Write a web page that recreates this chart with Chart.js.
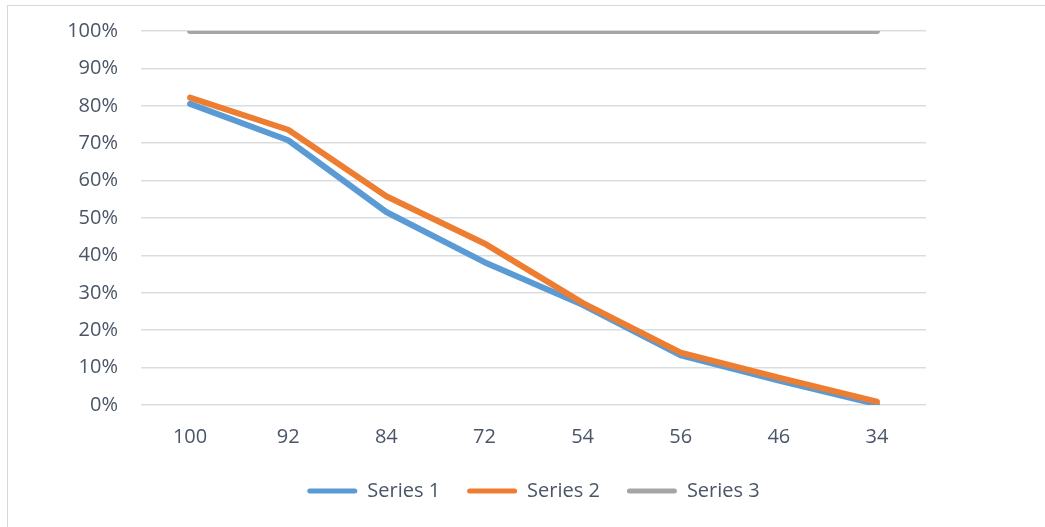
<!DOCTYPE html>
<html>
<head>
<meta charset="utf-8">
<script src="https://cdn.jsdelivr.net/npm/chart.js@4/dist/chart.umd.min.js"></script>
<style>
  html, body { margin: 0; padding: 0; background: #ffffff; overflow: hidden; }
  #frame {
    position: absolute; left: 7px; top: 5px; width: 1100px; height: 600px;
    border-left: 1px solid #d9d9d9; border-top: 1px solid #d9d9d9;
  }
  #wrap { position: absolute; left: 0; top: 0; width: 1045px; height: 527px; }
</style>
</head>
<body>
<div id="frame"></div>
<div id="wrap"><canvas id="chart" width="1045" height="527"></canvas></div>
<script>
// Category labels along the x axis
const categories = ['100', '92', '84', '72', '54', '56', '46', '34'];

// Series values, in percent
const series1 = [80.5, 70.8, 51.6, 38.2, 26.8, 13.3, 6.5, 0.2];
const series2 = [82.2, 73.6, 55.8, 43.2, 27.3, 14.0, 7.3, 0.9];
const series3 = [100, 100, 100, 100, 100, 100, 100, 100];

const seriesNames = ['Series 1', 'Series 2', 'Series 3'];
const seriesColors = ['#5b9bd5', '#ed7d31', '#a5a5a5'];

const textColor = '#4a5567';
const gridColor = '#d9dde2';
const font = { family: '"Open Sans", "Liberation Sans", sans-serif', size: 20 };

const lineStyle = (i) => ({
  label: seriesNames[i],
  borderColor: seriesColors[i],
  backgroundColor: seriesColors[i],
  borderWidth: 6,
  borderCapStyle: 'round',
  borderJoinStyle: 'round',
  pointRadius: 0,
  pointHoverRadius: 0,
  tension: 0,
  fill: false
});

// Center the legend row under the plot area rather than the whole canvas
const legendUnderPlot = {
  id: 'legendUnderPlot',
  afterLayout(chart) {
    if (chart.legend) {
      chart.legend.left = chart.chartArea.left;
      chart.legend.right = chart.chartArea.right;
      chart.legend.width = chart.chartArea.right - chart.chartArea.left;
    }
  }
};

new Chart(document.getElementById('chart'), {
  type: 'line',
  data: {
    labels: categories,
    datasets: [
      Object.assign(lineStyle(0), { data: series1, order: 2 }),
      Object.assign(lineStyle(1), { data: series2, order: 1 }),
      Object.assign(lineStyle(2), { data: series3, order: 3 })
    ]
  },
  plugins: [legendUnderPlot],
  options: {
    responsive: false,
    animation: false,
    devicePixelRatio: 1,
    layout: { padding: { left: 0, right: 119, top: 31, bottom: 16 } },
    plugins: {
      tooltip: { enabled: false },
      legend: {
        position: 'bottom',
        labels: {
          font: font,
          color: textColor,
          boxWidth: 50,
          boxHeight: 5,
          padding: 27,
          generateLabels: (chart) => chart.data.datasets.map((ds, i) => ({
            text: ds.label,
            fillStyle: ds.borderColor,
            strokeStyle: ds.borderColor,
            lineWidth: 0,
            borderRadius: 2.5,
            hidden: false,
            datasetIndex: i,
            fontColor: textColor
          }))
        }
      }
    },
    scales: {
      x: {
        offset: true,
        grid: { display: false, drawTicks: false },
        border: { display: false },
        ticks: { font: font, color: textColor, padding: 20, maxRotation: 0 },
        afterFit: (scale) => { scale.height = 49; }
      },
      y: {
        min: 0,
        max: 100,
        grid: { color: gridColor, lineWidth: 1.5, drawTicks: false },
        border: { display: false },
        ticks: {
          stepSize: 10,
          font: font,
          color: textColor,
          padding: 23,
          callback: (v) => v + '%'
        },
        afterFit: (scale) => {
          scale.width = 141;
          scale.paddingTop = 0;
          scale.paddingBottom = 0;
        }
      }
    }
  }
});
</script>
</body>
</html>
